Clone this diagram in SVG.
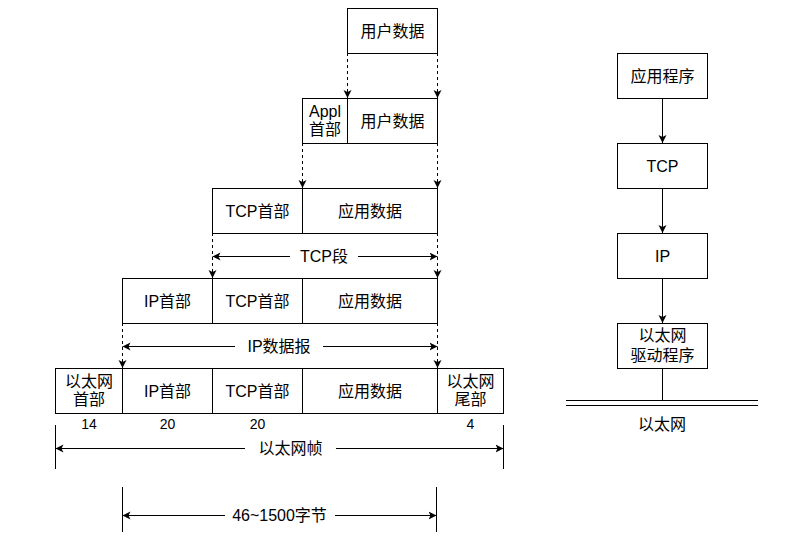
<svg xmlns="http://www.w3.org/2000/svg" width="788" height="541" viewBox="0 0 788 541">
<style>
.box{fill:#fff;stroke:#000;stroke-width:1}
.t{font-family:"Liberation Sans","Noto Sans CJK SC",sans-serif;font-size:16px;fill:#000;text-anchor:middle}
.n{font-family:"Liberation Sans","Noto Sans CJK SC",sans-serif;font-size:14px;fill:#000;text-anchor:middle}
.ln{stroke:#000;stroke-width:1;fill:none}
.dash{stroke:#000;stroke-width:1;fill:none;stroke-dasharray:3 3}
.bg{fill:#fff}
</style>
<defs>
<marker id="arr" viewBox="0 0 8 10" refX="8" refY="5" markerWidth="8" markerHeight="10" markerUnits="userSpaceOnUse" orient="auto-start-reverse">
<path d="M0,1 L8,5 L0,9 L2,5 Z" fill="#000"/>
</marker>
</defs>
<rect width="788" height="541" fill="#fff"/>

<g id="connectors">
<path class="dash" d="M347.5,53 V98" marker-end="url(#arr)"/>
<path class="dash" d="M437.5,53 V98" marker-end="url(#arr)"/>
<path class="dash" d="M302.5,143 V188" marker-end="url(#arr)"/>
<path class="dash" d="M437.5,143 V188" marker-end="url(#arr)"/>
<path class="dash" d="M212.5,233 V278" marker-end="url(#arr)"/>
<path class="dash" d="M437.5,233 V278" marker-end="url(#arr)"/>
<path class="dash" d="M122.5,323 V368" marker-end="url(#arr)"/>
<path class="dash" d="M437.5,323 V368" marker-end="url(#arr)"/>

<path class="ln" d="M212.5,256.5 H437.5" marker-start="url(#arr)" marker-end="url(#arr)"/>
<rect class="bg" x="290" y="246" width="68" height="20"/>
<text class="t" x="324" y="262">TCP段</text>

<path class="ln" d="M122.5,346.5 H437.5" marker-start="url(#arr)" marker-end="url(#arr)"/>
<rect class="bg" x="235" y="336" width="88" height="20"/>
<text class="t" x="279" y="352">IP数据报</text>

<path class="ln" d="M55.5,425 V469"/>
<path class="ln" d="M503.5,425 V469"/>
<path class="ln" d="M55.5,448.5 H503.5" marker-start="url(#arr)" marker-end="url(#arr)"/>
<rect class="bg" x="245" y="438" width="91" height="20"/>
<text class="t" x="290.5" y="454">以太网帧</text>

<path class="ln" d="M122.5,487 V532"/>
<path class="ln" d="M436.5,487 V532"/>
<path class="ln" d="M122.5,515.5 H436.5" marker-start="url(#arr)" marker-end="url(#arr)"/>
<rect class="bg" x="225" y="505" width="110" height="20"/>
<text class="t" x="279.5" y="521">46~1500字节</text>

<path class="ln" d="M662.5,98 V143" marker-end="url(#arr)"/>
<path class="ln" d="M662.5,188 V233" marker-end="url(#arr)"/>
<path class="ln" d="M662.5,278 V323" marker-end="url(#arr)"/>
<path class="ln" d="M662.5,368 V401"/>
</g>

<g id="user-data-1">
<rect class="box" x="347.5" y="8.5" width="90" height="45"/>
<text class="t" x="392.5" y="37">用户数据</text>
</g>

<g id="row2">
<g id="appl-header">
<rect class="box" x="302.5" y="98.5" width="45" height="45"/>
<text class="t" x="325" y="117">Appl</text>
<text class="t" x="325" y="135">首部</text>
</g>
<g id="user-data-2">
<rect class="box" x="347.5" y="98.5" width="90" height="45"/>
<text class="t" x="392.5" y="127">用户数据</text>
</g>
</g>

<g id="row3">
<g id="tcp-header-3">
<rect class="box" x="212.5" y="188.5" width="90" height="45"/>
<text class="t" x="257.5" y="217">TCP首部</text>
</g>
<g id="app-data-3">
<rect class="box" x="302.5" y="188.5" width="135" height="45"/>
<text class="t" x="370" y="217">应用数据</text>
</g>
</g>

<g id="row4">
<g id="ip-header-4">
<rect class="box" x="122.5" y="278.5" width="90" height="45"/>
<text class="t" x="167.5" y="307">IP首部</text>
</g>
<g id="tcp-header-4">
<rect class="box" x="212.5" y="278.5" width="90" height="45"/>
<text class="t" x="257.5" y="307">TCP首部</text>
</g>
<g id="app-data-4">
<rect class="box" x="302.5" y="278.5" width="135" height="45"/>
<text class="t" x="370" y="307">应用数据</text>
</g>
</g>

<g id="row5">
<g id="eth-header">
<rect class="box" x="55.5" y="368.5" width="67" height="45"/>
<text class="t" x="89" y="387">以太网</text>
<text class="t" x="89" y="405">首部</text>
</g>
<g id="ip-header-5">
<rect class="box" x="122.5" y="368.5" width="90" height="45"/>
<text class="t" x="167.5" y="397">IP首部</text>
</g>
<g id="tcp-header-5">
<rect class="box" x="212.5" y="368.5" width="90" height="45"/>
<text class="t" x="257.5" y="397">TCP首部</text>
</g>
<g id="app-data-5">
<rect class="box" x="302.5" y="368.5" width="135" height="45"/>
<text class="t" x="370" y="397">应用数据</text>
</g>
<g id="eth-trailer">
<rect class="box" x="437.5" y="368.5" width="66" height="45"/>
<text class="t" x="470.5" y="387">以太网</text>
<text class="t" x="470.5" y="405">尾部</text>
</g>
</g>

<g id="sizes">
<text class="n" x="89" y="429">14</text>
<text class="n" x="167.5" y="429">20</text>
<text class="n" x="257.5" y="429">20</text>
<text class="n" x="470.5" y="429">4</text>
</g>

<g id="app-program">
<rect class="box" x="617.5" y="53.5" width="90" height="45"/>
<text class="t" x="662.5" y="82">应用程序</text>
</g>
<g id="tcp">
<rect class="box" x="617.5" y="143.5" width="90" height="45"/>
<text class="t" x="662.5" y="172">TCP</text>
</g>
<g id="ip">
<rect class="box" x="617.5" y="233.5" width="90" height="45"/>
<text class="t" x="662.5" y="262">IP</text>
</g>
<g id="eth-driver">
<rect class="box" x="617.5" y="323.5" width="90" height="45"/>
<text class="t" x="662.5" y="341">以太网</text>
<text class="t" x="662.5" y="361">驱动程序</text>
</g>
<g id="ethernet">
<path class="ln" d="M566,400.5 H758"/>
<path class="ln" d="M566,405.5 H758"/>
<text class="t" x="662" y="430">以太网</text>
</g>
</svg>
